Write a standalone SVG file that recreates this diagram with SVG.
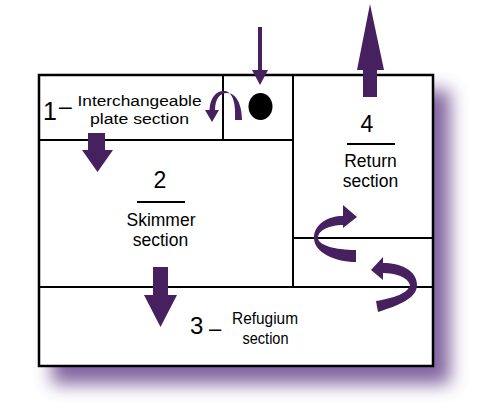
<svg xmlns="http://www.w3.org/2000/svg" width="500" height="413" viewBox="0 0 500 413">
<defs>
<filter id="blur" x="-20%" y="-20%" width="140%" height="140%">
<feGaussianBlur stdDeviation="9"/>
</filter>
<style>
.ln{stroke:#000;stroke-width:2;fill:none}
.arr{fill:#46205f}
.t{font-family:"Liberation Sans",Arial,sans-serif;fill:#000}
</style>
</defs>
<rect width="500" height="413" fill="#fff"/>
<g id="shadow">
<rect x="52" y="90" width="398" height="294" fill="#6c4a8e" opacity="0.85" filter="url(#blur)"/>
</g>
<g id="box">
<rect x="39" y="75" width="394" height="291" fill="#fff" stroke="#000" stroke-width="2.5"/>
</g>
<g id="lines">
<line class="ln" x1="39" y1="140" x2="293" y2="140"/>
<line class="ln" x1="223" y1="75" x2="223" y2="140"/>
<line class="ln" x1="293" y1="75" x2="293" y2="287"/>
<line class="ln" x1="293" y1="238" x2="433" y2="238"/>
<line class="ln" x1="39" y1="287" x2="433" y2="287"/>
</g>
<g id="section1">
<text class="t" x="43" y="120" font-size="25">1</text>
<text class="t" x="59" y="114" font-size="23">–</text>
<text class="t" x="139.5" y="106" font-size="15.5" text-anchor="middle" textLength="124" lengthAdjust="spacingAndGlyphs">Interchangeable</text>
<text class="t" x="139.5" y="124" font-size="15.5" text-anchor="middle" textLength="99" lengthAdjust="spacingAndGlyphs">plate section</text>
</g>
<g id="section2">
<text class="t" x="160" y="188" font-size="23" text-anchor="middle">2</text>
<line class="ln" x1="137" y1="202" x2="185" y2="202"/>
<text class="t" x="161" y="226" font-size="17.5" text-anchor="middle">Skimmer</text>
<text class="t" x="160.5" y="246" font-size="17.5" text-anchor="middle">section</text>
</g>
<g id="section3">
<text class="t" x="190" y="334" font-size="24">3</text>
<text class="t" x="209" y="336" font-size="22">–</text>
<text class="t" x="265" y="324" font-size="16.5" text-anchor="middle" textLength="66" lengthAdjust="spacingAndGlyphs">Refugium</text>
<text class="t" x="265.5" y="344" font-size="16.5" text-anchor="middle" textLength="46" lengthAdjust="spacingAndGlyphs">section</text>
</g>
<g id="section4">
<text class="t" x="367" y="132" font-size="23" text-anchor="middle">4</text>
<line class="ln" x1="347" y1="144" x2="395" y2="144"/>
<text class="t" x="370.5" y="167" font-size="17.5" text-anchor="middle">Return</text>
<text class="t" x="370.5" y="187" font-size="17.5" text-anchor="middle">section</text>
</g>
<g id="dot">
<ellipse cx="260.5" cy="106.5" rx="12" ry="13.5" fill="#000"/>
</g>
<g id="connectors">
<path class="arr" d="M258,27 L262,27 L262,70 L268,70 L260,85 L252,70 L258,70 Z"/>
<path class="arr" d="M88,133 L105,133 L105,150 L113,150 L97.5,172 L82,150 L88,150 Z"/>
<path class="arr" d="M153,267 L168,267 L168,295 L177,295 L160.5,327 L144,295 L153,295 Z"/>
<path class="arr" d="M363,97 L377,97 L377,70 L384,70 L370,4 L357,70 L363,70 Z"/>
<path class="arr" d="M242,120 C242,104 236,93 227,93 C219,93 215,100 215,110 L219,110 L212,122 L205,110 L209.5,110 C210,97 217,90 225,91 C233,92 236,104 235,120 Z"/>
<path class="arr" d="M356,262 C334,262 314,252 314,238 C314,224 328,216 343,216 L343,205 L357,217 L343,228 L343,225 C330,225 318,230 318,238 C318,245 335,250 356,250 Z"/>
<path class="arr" d="M378,312 C400,305 417,298 417,285 C417,270 400,263 383,263 L383,257 L371,270 L383,280 L383,273 C395,273 408,277 410,285 C408,293 395,298 376,301 Z"/>
</g>
</svg>
